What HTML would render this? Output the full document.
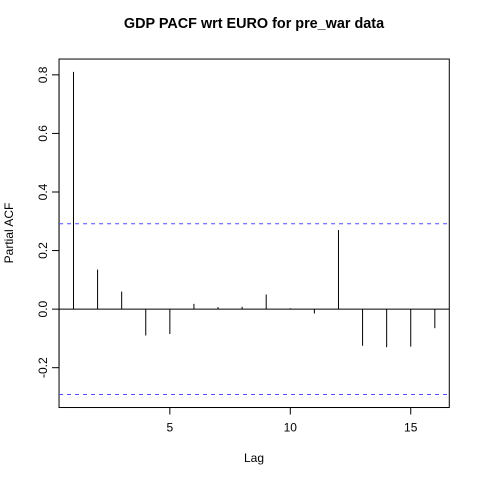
<!DOCTYPE html>
<html><head><meta charset="utf-8"><style>
html,body{margin:0;padding:0;background:#fff;}
svg{display:block;font-family:"Liberation Sans",sans-serif;}
</style></head><body>
<svg id="chart" width="480" height="480" xmlns="http://www.w3.org/2000/svg">
<rect width="480" height="480" fill="#fff"/>
<text x="254" y="28" text-anchor="middle" font-size="14.4" font-weight="bold">GDP PACF wrt EURO for pre_war data</text>
<text x="254" y="462" text-anchor="middle" font-size="12">Lag</text>
<text transform="translate(13,233) rotate(-90)" text-anchor="middle" font-size="12">Partial ACF</text>
<rect x="59.04" y="59.04" width="390.24" height="348.48" fill="none" stroke="#000" stroke-width="1"/>
<g id="xaxis"></g>
<g id="yaxis"></g>
<g id="marks"></g>
</svg>
<script>
const lags = [1,2,3,4,5,6,7,8,9,10,11,12,13,14,15,16];
const pacfValues = [0.81,0.135,0.06,-0.09,-0.085,0.018,0.007,0.008,0.05,0.003,-0.015,0.27,-0.125,-0.13,-0.128,-0.065];
const xTicks = [5,10,15];
const yTicks = [-0.2,0.0,0.2,0.4,0.6,0.8];
const yTickLabels = ["-0.2","0.0","0.2","0.4","0.6","0.8"];
const ciBound = 0.2915;

const NS="http://www.w3.org/2000/svg";
const L=59.04,R=449.28,T=59.04,B=407.52;
const xmin=0.4,xmax=16.6,ymin=-0.336,ymax=0.854;
const xs=v=>L+(v-xmin)/(xmax-xmin)*(R-L);
const ys=v=>B-(v-ymin)/(ymax-ymin)*(B-T);
function mk(tag,attrs,parent){const e=document.createElementNS(NS,tag);for(const k in attrs)e.setAttribute(k,attrs[k]);parent.appendChild(e);return e;}
const xa=document.getElementById('xaxis'),ya=document.getElementById('yaxis'),mg=document.getElementById('marks');
mk('line',{x1:xs(xTicks[0]),x2:xs(xTicks[xTicks.length-1]),y1:B,y2:B,stroke:'#000'},xa);
xTicks.forEach(t=>{
 const l=mk('line',{x1:xs(t),x2:xs(t),y1:B,y2:B+7,stroke:'#000'},xa);
 
 
 const tx=mk('text',{x:xs(t),y:B+24,'text-anchor':'middle','font-size':'12'},xa);
 tx.textContent=t;
 
 
});
mk('line',{x1:L,x2:L,y1:ys(yTicks[0]),y2:ys(yTicks[yTicks.length-1]),stroke:'#000'},ya);
yTicks.forEach((t,i)=>{
 const l=mk('line',{x1:L-7,x2:L,y1:ys(t),y2:ys(t),stroke:'#000'},ya);
 
 
 const tx=mk('text',{transform:`translate(${L-12},${ys(t)}) rotate(-90)`,'text-anchor':'middle','font-size':'12'},ya);
 tx.textContent=yTickLabels[i];
 
 
});
const z=mk('line',{x1:L,x2:R,y1:ys(0),y2:ys(0),stroke:'#000'},mg);


[ciBound,-ciBound].forEach((c,i)=>{
 const l=mk('line',{x1:L,x2:R,y1:ys(c),y2:ys(c),stroke:'#4d4dff','stroke-dasharray':'4,4'},mg);
 
 
});
lags.forEach((g,i)=>{
 const l=mk('line',{x1:xs(g),x2:xs(g),y1:ys(0),y2:ys(pacfValues[i]),stroke:'#000'},mg);
 
 
});
</script>
</body></html>
